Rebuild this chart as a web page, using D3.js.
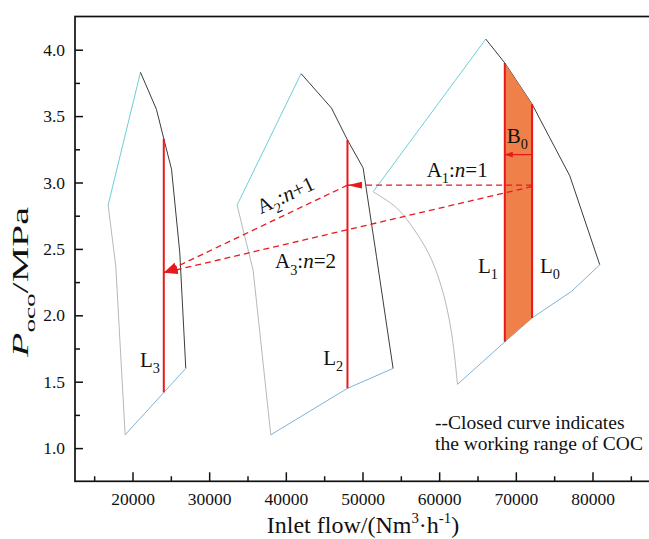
<!DOCTYPE html>
<html>
<head>
<meta charset="utf-8">
<script src="https://cdn.jsdelivr.net/npm/d3@7"></script>
<style>
  body { margin: 0; background: #fff; }
  text { font-family: "Liberation Serif", "Times New Roman", serif; fill: #111; }
</style>
</head>
<body>
<script>
// tick values
const flowTicks = [20000, 30000, 40000, 50000, 60000, 70000, 80000];
const flowMinor = [15000, 25000, 35000, 45000, 55000, 65000, 75000, 85000];
const pocoTicks = [1.0, 1.5, 2.0, 2.5, 3.0, 3.5, 4.0];
const pocoMinor = [1.25, 1.75, 2.25, 2.75, 3.25, 3.75];

// working range of COC, left closed curve  [flow, P_oco]
const coc1Cyan = [[16820, 2.83], [21040, 3.83]];
const coc1Black = [[21040, 3.83], [23130, 3.55], [24080, 3.33], [25090, 3.10], [26170, 2.47], [26950, 1.60]];
const coc1Blue = [[26950, 1.60], [19040, 1.10]];
const coc1Gray = [[19040, 1.10], [17820, 2.37], [16820, 2.83]];

// middle closed curve
const coc2Cyan = [[33640, 2.83], [41990, 3.82]];
const coc2Black = [[41990, 3.82], [45960, 3.56], [48040, 3.32], [50080, 3.11], [51830, 2.44], [53990, 1.60]];
const coc2Blue = [[53990, 1.60], [48040, 1.45], [38040, 1.10]];
const coc2Gray = [[38040, 1.10], [35730, 2.34], [33640, 2.83]];

// right closed curve
const coc3Cyan = [[51380, 2.93], [66080, 4.08]];
const coc3Black = [[66080, 4.08], [68560, 3.90], [72120, 3.59], [77040, 3.05], [80950, 2.38]];
const coc3Blue = [[80950, 2.38], [77260, 2.18], [72120, 1.98], [68560, 1.80], [62390, 1.48]];
const coc3Gray = [[62390, 1.48], [61610, 1.87], [60510, 2.17], [59000, 2.42], [57040, 2.62], [54430, 2.81], [51380, 2.93]];

// operating lines L0..L3
const lineNames = ["L0", "L1", "L2", "L3"];
const lineFlow = [72120, 68560, 48040, 24080];
const lineTop = [3.59, 3.90, 3.32, 3.33];
const lineBottom = [1.98, 1.80, 1.45, 1.42];

// shaded band B0 between L1 and L0
const bandB0 = [[68560, 3.90], [72120, 3.59], [72120, 1.98], [68560, 1.80]];

// dashed moves A1..A3 : [from, to]
const moveA1 = [[72120, 2.98], [48040, 2.98]];
const moveA2 = [[48040, 2.98], [24080, 2.32]];
const moveA3 = [[72120, 2.97], [24080, 2.32]];
const moveB0 = [[72120, 3.21], [68560, 3.21]];

const width = 649, height = 539;
const red = "#e8191d";

const svg = d3.select("body").append("svg")
  .attr("width", width)
  .attr("height", height);

// scales
const x = d3.scaleLinear().domain([12500, 87500]).range([75, 650]);
const y = d3.scaleLinear().domain([0.75, 4.25]).range([481.3, 16.5]);

const line = d3.line().x(d => x(d[0])).y(d => y(d[1]));
const curve = d3.line().x(d => x(d[0])).y(d => y(d[1])).curve(d3.curveCatmullRom);

// arrow heads
const defs = svg.append("defs");
function marker(id, len, half) {
  defs.append("marker")
    .attr("id", id)
    .attr("markerUnits", "userSpaceOnUse")
    .attr("markerWidth", len).attr("markerHeight", half * 2)
    .attr("refX", len).attr("refY", half)
    .attr("orient", "auto")
    .append("path")
    .attr("d", `M0,0L${len},${half}L0,${half * 2}Z`)
    .attr("fill", red);
}
marker("headA1", 15, 3.5);
marker("headA", 14, 4.5);
marker("headB", 8, 3);

// closed curves
const edges = [
  [coc1Cyan, "#6ccfd8"], [coc1Black, "#3c3c3c"], [coc1Blue, "#83b2d6"], [coc1Gray, "#b8b8b8"],
  [coc2Cyan, "#6ccfd8"], [coc2Black, "#3c3c3c"], [coc2Blue, "#83b2d6"], [coc2Gray, "#b8b8b8"],
  [coc3Cyan, "#6ccfd8"], [coc3Black, "#3c3c3c"], [coc3Blue, "#83b2d6"]
];
const gCurves = svg.append("g").attr("fill", "none").attr("stroke-width", 1);
gCurves.selectAll("path.edge")
  .data(edges)
  .join("path")
  .attr("class", "edge")
  .attr("stroke", d => d[1])
  .attr("d", d => line(d[0]));
gCurves.append("path")
  .attr("stroke", "#b8b8b8")
  .attr("d", curve(coc3Gray));

// shaded band
svg.append("path")
  .attr("d", line(bandB0) + "Z")
  .attr("fill", "#ef8049");

// red operating lines
svg.append("g").selectAll("line")
  .data(lineFlow)
  .join("line")
  .attr("x1", d => x(d)).attr("x2", d => x(d))
  .attr("y1", (d, i) => y(lineTop[i]))
  .attr("y2", (d, i) => y(lineBottom[i]))
  .attr("stroke", red)
  .attr("stroke-width", 2);

// dashed moves
const gMoves = svg.append("g").attr("fill", "none").attr("stroke", red)
  .attr("stroke-width", 1.3).attr("stroke-dasharray", "6,4");
gMoves.append("path").attr("d", line(moveA1)).attr("marker-end", "url(#headA1)");
gMoves.append("path").attr("d", line(moveA3)).attr("marker-end", "url(#headA)");
gMoves.append("path").attr("d", line(moveA2)).attr("marker-end", "url(#headA)");

svg.append("path")
  .attr("d", line(moveB0))
  .attr("fill", "none").attr("stroke", red).attr("stroke-width", 1.3)
  .attr("marker-end", "url(#headB)");

// rich text helper: parts with sub / sup / italic
function richText(t, parts, fs) {
  let shift = 0;
  parts.forEach(p => {
    let target = 0, size = fs;
    if (p.sub) { target = 0.3 * fs; size = 0.68 * fs; }
    if (p.sup) { target = -0.42 * fs; size = 0.62 * fs; }
    const s = t.append("tspan").text(p.t)
      .attr("font-size", size)
      .attr("dy", target - shift);
    if (p.it) s.attr("font-style", "italic");
    shift = target;
  });
  return t;
}

function label(v, p, parts, fs, rot) {
  const t = svg.append("text")
    .attr("transform", `translate(${x(v)},${y(p)})` + (rot ? ` rotate(${rot})` : ""));
  return richText(t, parts, fs);
}

const fsAnno = 21;
label(20978, 1.613, [{t: "L"}, {t: "3", sub: true}], fsAnno);
label(44886, 1.626, [{t: "L"}, {t: "2", sub: true}], fsAnno);
label(65063, 2.319, [{t: "L"}, {t: "1", sub: true}], fsAnno);
label(73150, 2.319, [{t: "L"}, {t: "0", sub: true}], fsAnno);
label(68808, 3.297, [{t: "B"}, {t: "0", sub: true}], fsAnno);
label(58373, 3.044, [{t: "A"}, {t: "1", sub: true}, {t: ":"}, {t: "n", it: true}, {t: "=1"}], fsAnno);
label(38586, 2.354, [{t: "A"}, {t: "3", sub: true}, {t: ":"}, {t: "n", it: true}, {t: "=2"}], fsAnno);
label(36721, 2.761, [{t: "A"}, {t: "2", sub: true}, {t: ":"}, {t: "n", it: true}, {t: "+1"}], fsAnno, -25);

// note
svg.append("text").attr("x", x(59457)).attr("y", y(1.144))
  .attr("font-size", 19.5).text("--Closed curve indicates");
svg.append("text").attr("x", x(59457)).attr("y", y(0.982))
  .attr("font-size", 19.5).text("the working range of COC");

// axes
const gx = svg.append("g").attr("transform", `translate(0,${y(0.75)})`)
  .call(d3.axisBottom(x).tickValues(flowTicks).tickFormat(d3.format("d"))
    .tickSizeInner(-9).tickSizeOuter(0).tickPadding(11.5));
svg.append("g").attr("transform", `translate(0,${y(0.75)})`)
  .call(d3.axisBottom(x).tickValues(flowMinor).tickFormat("")
    .tickSizeInner(-5).tickSizeOuter(0));

const gy = svg.append("g").attr("transform", `translate(${x(12500)},0)`)
  .call(d3.axisLeft(y).tickValues(pocoTicks).tickFormat(d3.format(".1f"))
    .tickSizeInner(-8).tickSizeOuter(0).tickPadding(10));
svg.append("g").attr("transform", `translate(${x(12500)},0)`)
  .call(d3.axisLeft(y).tickValues(pocoMinor).tickFormat("")
    .tickSizeInner(-5).tickSizeOuter(0));

svg.selectAll(".domain").remove();
svg.selectAll(".tick line").attr("stroke", "#111").attr("stroke-width", 1.5);
svg.selectAll(".tick text").attr("font-size", 17.5)
  .attr("font-family", "'Liberation Serif','Times New Roman',serif").attr("fill", "#222");

// frame
svg.append("rect")
  .attr("x", x(12500)).attr("y", y(4.25))
  .attr("width", x(87500) - x(12500)).attr("height", y(0.75) - y(4.25))
  .attr("fill", "none").attr("stroke", "#111").attr("stroke-width", 1.7);

// axis titles
const xt = svg.append("text").attr("x", 363).attr("y", 533)
  .attr("text-anchor", "middle");
richText(xt, [{t: "Inlet flow/(Nm"}, {t: "3", sup: true}, {t: "·h"}, {t: "-1", sup: true}, {t: ")"}], 24);

const yt = svg.append("text")
  .attr("transform", `translate(28,282) rotate(-90)`)
  .attr("text-anchor", "middle")
  .attr("textLength", 150).attr("lengthAdjust", "spacingAndGlyphs");
richText(yt, [{t: "P", it: true}, {t: "oco", sub: true}, {t: "/MPa"}], 23);
</script>
</body>
</html>
